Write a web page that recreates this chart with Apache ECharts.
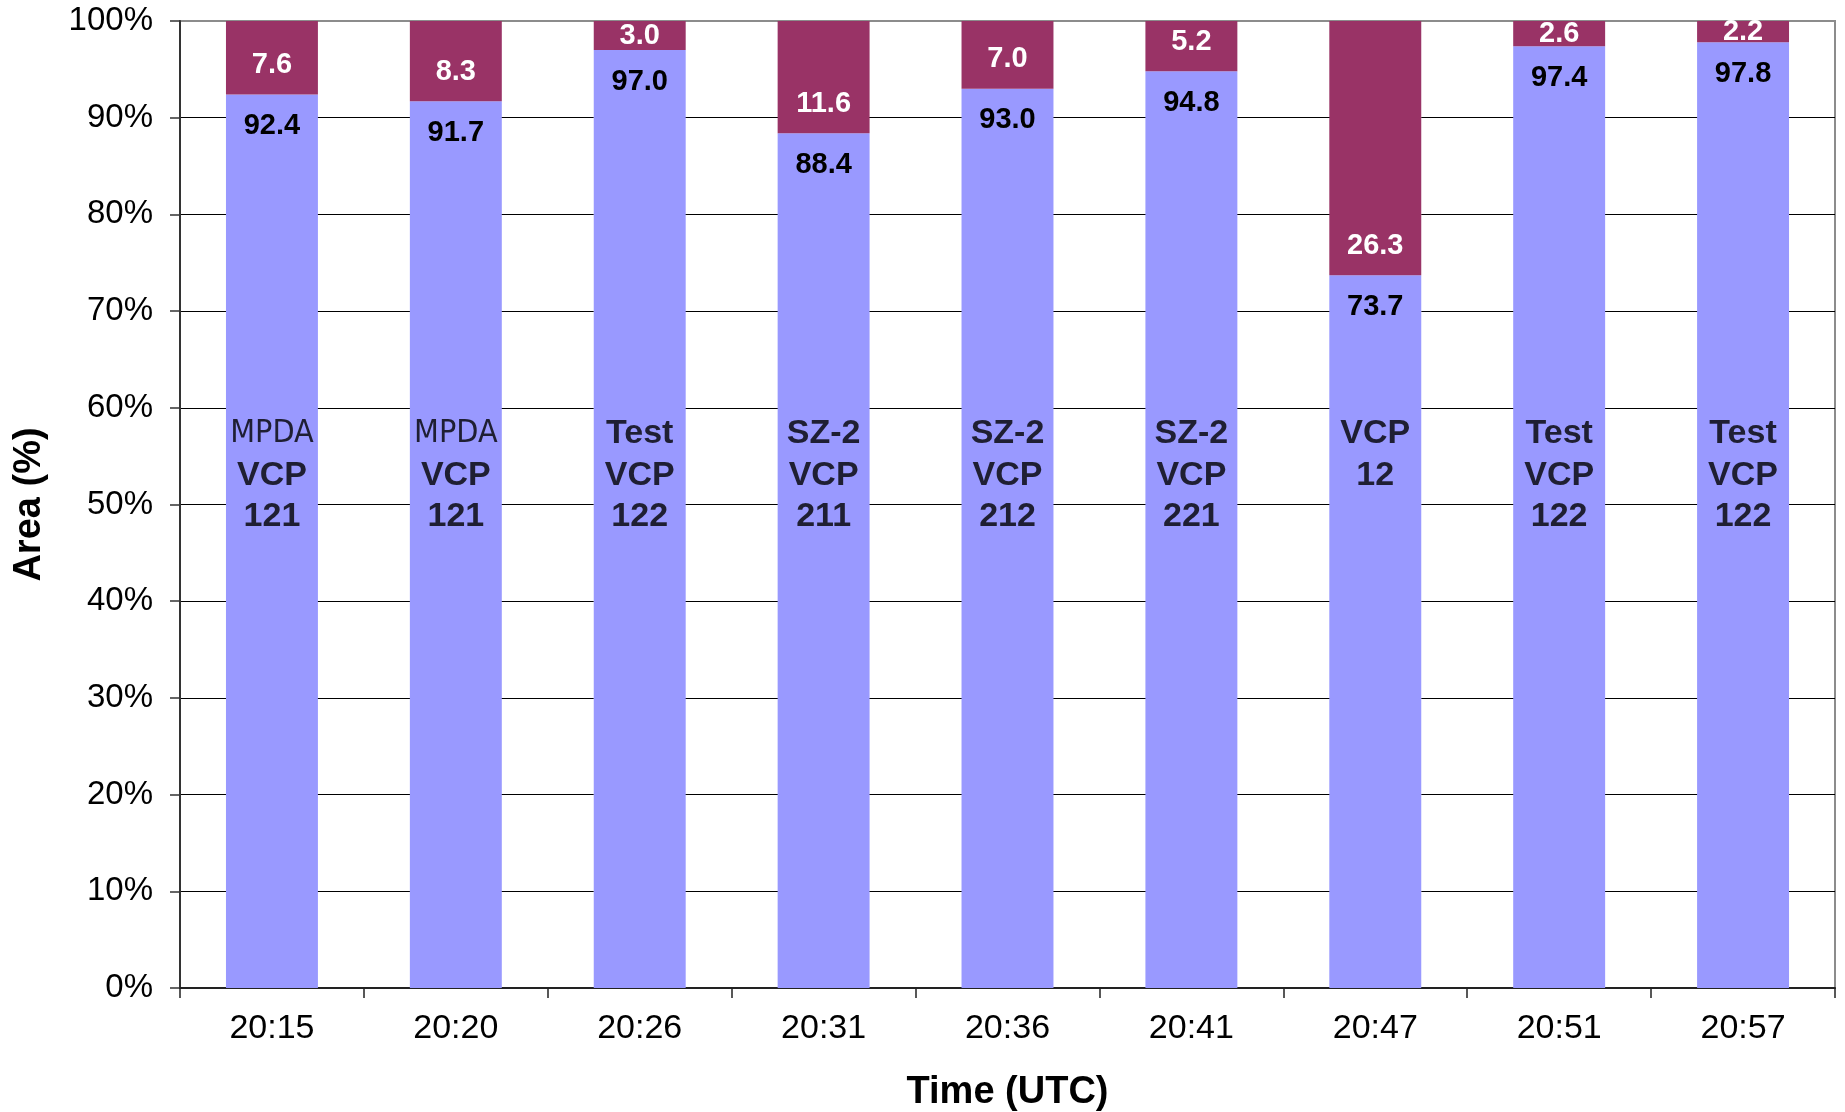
<!DOCTYPE html>
<html>
<head>
<meta charset="utf-8">
<title>Area by scan time</title>
<script src="https://cdn.jsdelivr.net/npm/echarts@6/dist/echarts.min.js"></script>
<style>
  html, body { margin: 0; padding: 0; background: #ffffff; }
  #chart { width: 1845px; height: 1112px; }
</style>
</head>
<body>
<div id="chart"></div>
<script>
// Scan times (UTC)
const times = ['20:15', '20:20', '20:26', '20:31', '20:36', '20:41', '20:47', '20:51', '20:57'];

// Percent of area in each class (the two parts of each column add to 100)
const lowerShare = [92.4, 91.7, 97.0, 88.4, 93.0, 94.8, 73.7, 97.4, 97.8];
const upperShare = [7.6, 8.3, 3.0, 11.6, 7.0, 5.2, 26.3, 2.6, 2.2];

// Scan strategy written inside each column
const scanNotes = [
  ['MPDA', 'VCP', '121'],
  ['MPDA', 'VCP', '121'],
  ['Test', 'VCP', '122'],
  ['SZ-2', 'VCP', '211'],
  ['SZ-2', 'VCP', '212'],
  ['SZ-2', 'VCP', '221'],
  ['VCP', '12'],
  ['Test', 'VCP', '122'],
  ['Test', 'VCP', '122']
];

// Y-axis ticks
const yMin = 0, yMax = 100, yStep = 10;

const FONT = '"Liberation Sans", Arial, Helvetica, sans-serif';
const NARROW = '"Liberation Sans Narrow", "Arial Narrow", "DejaVu Sans Condensed", "Liberation Sans", sans-serif';
const NOTE_TOP = 59.5; // where the first note line starts, in axis units

const chart = echarts.init(document.getElementById('chart'), null, { renderer: 'canvas' });

// grid lines: black, except the top border which is grey
const gridColors = [];
for (let v = yMin; v <= yMax; v += yStep) gridColors.push(v === yMax ? '#8c8c8c' : '#000000');

chart.setOption({
  animation: false,
  backgroundColor: '#ffffff',
  textStyle: { fontFamily: FONT },
  grid: {
    left: 180, right: 10, top: 21, bottom: 124,
    outerBoundsMode: 'none',
    containLabel: false,
    show: true, borderColor: '#8c8c8c', borderWidth: 2, backgroundColor: 'transparent'
  },
  xAxis: {
    type: 'category',
    data: times,
    name: 'Time (UTC)',
    nameLocation: 'middle',
    nameGap: 86,
    nameTextStyle: { fontFamily: FONT, fontSize: 38, fontWeight: 'bold', color: '#000' },
    axisLine: { lineStyle: { color: '#222', width: 2 } },
    axisTick: { show: true, length: 10, lineStyle: { color: '#222', width: 1.5 } },
    axisLabel: { fontFamily: FONT, fontSize: 34, color: '#000', margin: 24 }
  },
  yAxis: {
    type: 'value',
    min: yMin, max: yMax, interval: yStep,
    name: 'Area (%)',
    nameLocation: 'middle',
    nameGap: 131,
    nameTextStyle: { fontFamily: FONT, fontSize: 38, fontWeight: 'bold', color: '#000' },
    axisLine: { show: true, lineStyle: { color: '#333', width: 2 } },
    axisTick: { show: true, length: 10, lineStyle: { color: '#333', width: 1.5 } },
    axisLabel: { fontFamily: FONT, fontSize: 33, color: '#000', margin: 27, formatter: '{value}%' },
    splitLine: { show: true, lineStyle: { color: gridColors, width: 1 } }
  },
  series: [
    {
      name: 'lower',
      type: 'bar',
      stack: 'area',
      barWidth: '50%',
      itemStyle: { color: '#9999ff' },
      data: lowerShare,
      label: {
        show: true,
        position: 'insideTop',
        distance: 17,
        fontFamily: FONT, fontSize: 29, fontWeight: 'bold', color: '#000',
        formatter: p => p.value.toFixed(1)
      }
    },
    {
      name: 'upper',
      type: 'bar',
      stack: 'area',
      barWidth: '50%',
      itemStyle: { color: '#993366' },
      data: upperShare.map(v => ({
        value: v,
        label: v < 4 ? { position: 'inside' } : { position: 'insideBottom', distance: 15 }
      })),
      label: {
        show: true,
        fontFamily: FONT, fontSize: 29, fontWeight: 'bold', color: '#ffffff',
        formatter: p => p.value.toFixed(1)
      }
    },
    {
      name: 'notes',
      type: 'scatter',
      symbol: 'rect',
      symbolSize: 1,
      itemStyle: { color: 'rgba(0,0,0,0)' },
      silent: true,
      z: 5,
      data: scanNotes.map((lines, i) => [times[i], NOTE_TOP]),
      label: {
        show: true,
        position: 'bottom',
        distance: 0,
        align: 'center',
        formatter: p => scanNotes[p.dataIndex]
          .map(l => (l === 'MPDA' ? '{n|' + l + '}' : '{b|' + l + '}'))
          .join('\n'),
        rich: {
          n: { fontFamily: NARROW, fontSize: 32, fontWeight: 'normal', color: '#000', lineHeight: 41.5, align: 'center' },
          b: { fontFamily: FONT, fontSize: 34, fontWeight: 'bold', color: '#000', lineHeight: 41.5, align: 'center' }
        }
      }
    }
  ]
});
</script>
</body>
</html>
